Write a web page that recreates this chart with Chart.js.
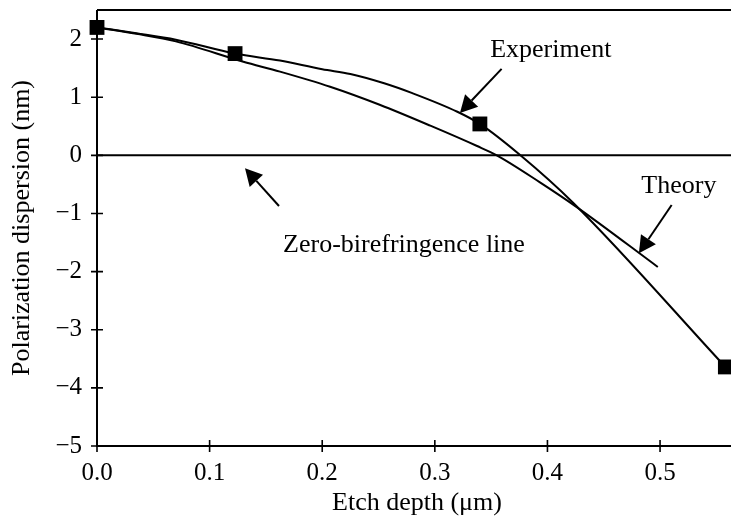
<!DOCTYPE html>
<html><head><meta charset="utf-8">
<script src="https://cdn.jsdelivr.net/npm/chart.js@4/dist/chart.umd.min.js"></script>
<style>html,body{margin:0;padding:0;background:#fff;}</style>
</head><body>
<canvas id="c" width="731" height="516"></canvas>
<script>
const xTicks = [0.0, 0.1, 0.2, 0.3, 0.4, 0.5];
const yTicks = [-5, -4, -3, -2, -1, 0, 1, 2];
const experimentX = [0, 0.035, 0.07, 0.1226, 0.1625, 0.20, 0.225, 0.255, 0.28, 0.32, 0.34, 0.376, 0.423, 0.558];
const experimentY = [2.20, 2.10, 1.99, 1.75, 1.63, 1.48, 1.40, 1.24, 1.07, 0.75, 0.54, 0.0, -0.82, -3.64];
const theoryX = [0, 0.035, 0.07, 0.13, 0.1625, 0.207, 0.251, 0.296, 0.3375, 0.355, 0.393, 0.426, 0.498];
const theoryY = [2.20, 2.09, 1.96, 1.61, 1.44, 1.18, 0.87, 0.51, 0.16, 0.0, -0.46, -0.89, -1.92];
const markerX = [0, 0.1226, 0.340, 0.558];
const markerY = [2.20, 1.75, 0.54, -3.64];
const zeroLineX = [0, 0.563];
const zeroLineY = [0, 0];

const FONT = '"Liberation Serif", "Times New Roman", serif';
const pts = (xs, ys) => xs.map((x, i) => ({x: x, y: ys[i]}));

const annotations = [
  {text: 'Experiment', at: [0.403, 1.815], from: [0.3593, 1.488], to: [0.3223, 0.730]},
  {text: 'Theory', at: [0.5167, -0.536], from: [0.5103, -0.854], to: [0.4812, -1.686]},
  {text: 'Zero-birefringence line', at: [0.2726, -1.543], from: [0.1616, -0.871], to: [0.1314, -0.222]}
];

function arrow(ctx, x0, y0, x1, y1) {
  const ang = Math.atan2(y1 - y0, x1 - x0), L = 17, W = 9;
  const c = Math.cos(ang), s = Math.sin(ang);
  const bx = x1 - L * c, by = y1 - L * s;
  ctx.beginPath(); ctx.moveTo(x0, y0); ctx.lineTo(bx, by); ctx.stroke();
  ctx.beginPath(); ctx.moveTo(x1, y1);
  ctx.lineTo(bx - W * s, by + W * c);
  ctx.lineTo(bx + W * s, by - W * c);
  ctx.closePath(); ctx.fill();
}

const frame = {
  id: 'frame',
  beforeDatasetsDraw(chart) {
    const {ctx, chartArea: a, scales: {x, y}} = chart;
    ctx.save();
    ctx.strokeStyle = '#000'; ctx.lineWidth = 2;
    ctx.beginPath();
    ctx.moveTo(a.left, a.top); ctx.lineTo(a.right + 2, a.top);
    ctx.moveTo(a.left, a.top); ctx.lineTo(a.left, a.bottom); ctx.lineTo(a.right + 2, a.bottom);
    ctx.stroke();
    ctx.lineWidth = 1.6;
    ctx.beginPath();
    xTicks.forEach(v => { const px = x.getPixelForValue(v); ctx.moveTo(px, a.bottom - 6); ctx.lineTo(px, a.bottom + 6); });
    yTicks.forEach(v => { const py = y.getPixelForValue(v); ctx.moveTo(a.left - 6, py); ctx.lineTo(a.left + 6, py); });
    ctx.stroke();
    ctx.fillStyle = '#000';
    ctx.font = '26px ' + FONT;
    ctx.textAlign = 'center'; ctx.textBaseline = 'alphabetic';
    ctx.fillText('Etch depth (\u03bcm)', (a.left + a.right) / 2 + 3, 510);
    ctx.save();
    ctx.translate(29, (a.top + a.bottom) / 2);
    ctx.rotate(-Math.PI / 2);
    ctx.fillText('Polarization dispersion (nm)', 0, 0);
    ctx.restore();
    ctx.restore();
  },
  afterDatasetsDraw(chart) {
    const {ctx, scales: {x, y}} = chart;
    ctx.save();
    ctx.fillStyle = '#000'; ctx.strokeStyle = '#000'; ctx.lineWidth = 2;
    ctx.font = '26px ' + FONT;
    ctx.textAlign = 'center'; ctx.textBaseline = 'middle';
    annotations.forEach(an => {
      ctx.fillText(an.text, x.getPixelForValue(an.at[0]), y.getPixelForValue(an.at[1]));
      arrow(ctx, x.getPixelForValue(an.from[0]), y.getPixelForValue(an.from[1]),
                 x.getPixelForValue(an.to[0]), y.getPixelForValue(an.to[1]));
    });
    ctx.restore();
  }
};

new Chart(document.getElementById('c'), {
  type: 'line',
  data: {
    datasets: [
      {label: 'Zero-birefringence line', data: pts(zeroLineX, zeroLineY), borderColor: '#000', borderWidth: 2, pointRadius: 0, tension: 0},
      {label: 'Theory', data: pts(theoryX, theoryY), borderColor: '#000', borderWidth: 2, pointRadius: 0, cubicInterpolationMode: 'monotone'},
      {label: 'Experiment', data: pts(experimentX, experimentY), borderColor: '#000', borderWidth: 2, pointRadius: 0, cubicInterpolationMode: 'monotone'},
      {label: 'Measured', data: pts(markerX, markerY), showLine: false, pointStyle: 'rect', pointRadius: 10.5, backgroundColor: '#000', borderColor: '#000', borderWidth: 0, clip: false}
    ]
  },
  options: {
    responsive: false, animation: false, devicePixelRatio: 1,
    layout: {autoPadding: false, padding: {top: 10, right: 0, left: 0, bottom: 0}},
    plugins: {legend: {display: false}, tooltip: {enabled: false}},
    scales: {
      x: {
        type: 'linear', position: 'bottom', min: 0, max: 0.563,
        grid: {display: false, drawTicks: false}, border: {display: false},
        afterBuildTicks: s => { s.ticks = xTicks.map(v => ({value: v})); },
        afterFit: s => { s.height = 70; s.paddingLeft = 0; s.paddingRight = 0; },
        ticks: {color: '#000', font: {family: FONT, size: 25}, padding: 12, maxRotation: 0, autoSkip: false,
          callback: v => Number(v).toFixed(1)}
      },
      y: {
        type: 'linear', min: -5, max: 2.5,
        grid: {display: false, drawTicks: false}, border: {display: false},
        afterBuildTicks: s => { s.ticks = yTicks.map(v => ({value: v})); },
        afterFit: s => { s.width = 97; s.paddingTop = 0; s.paddingBottom = 0; },
        ticks: {color: '#000', font: {family: FONT, size: 25}, padding: 15, autoSkip: false,
          callback: v => v < 0 ? '\u2212' + Math.abs(v) : String(v)}
      }
    }
  },
  plugins: [frame]
});
</script>
</body></html>
